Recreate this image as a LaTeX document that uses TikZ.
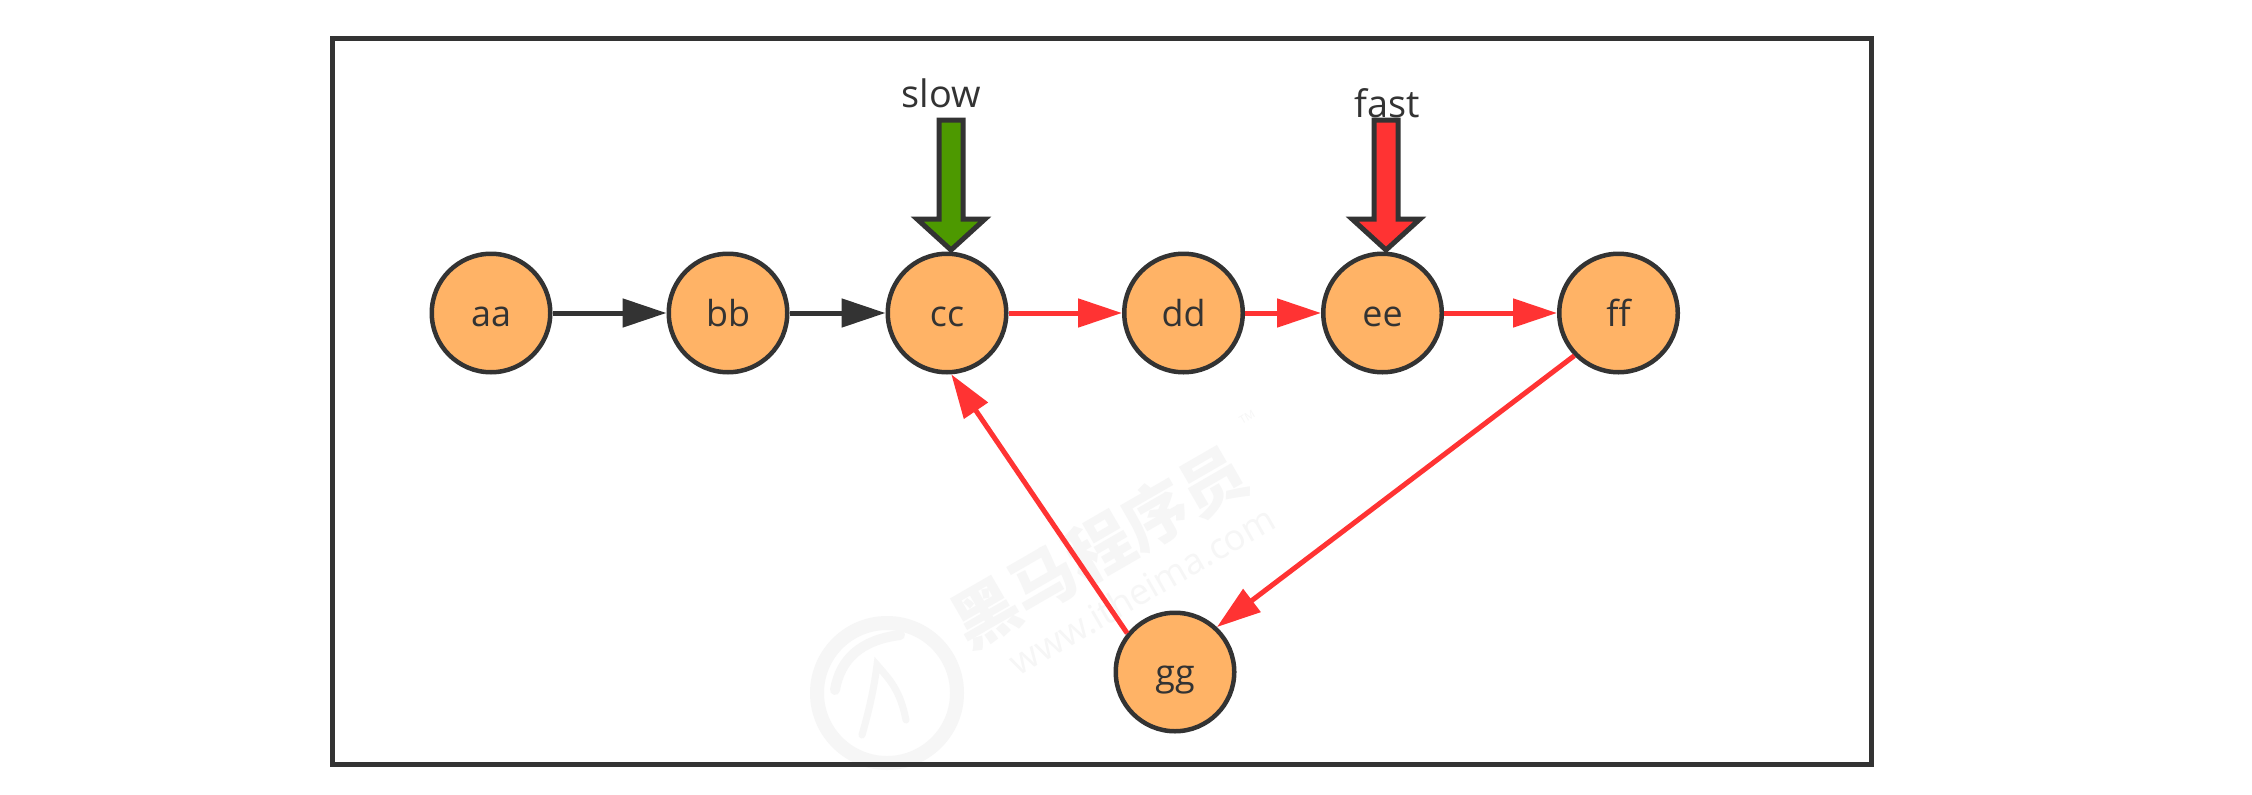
\documentclass[tikz,border=0pt]{standalone}
\usepackage{fontspec}
\setmainfont{Open Sans}
\newfontfamily\cjkwm{Noto Sans CJK SC}
\usetikzlibrary{arrows.meta}
\definecolor{ink}{HTML}{333333}
\definecolor{hotred}{HTML}{FF3333}
\definecolor{peach}{HTML}{FFB366}
\definecolor{leaf}{HTML}{4D9900}
\definecolor{wm}{HTML}{F6F6F6}
\tikzset{
  vertex/.style={circle,draw=ink,fill=peach,line width=4.5bp,minimum size=118.5bp,inner sep=0pt,text=ink,text height=26bp,text depth=0bp,font=\fontsize{36}{40}\selectfont},
  blackedge/.style={draw=ink,line width=5bp,-{Triangle[length=44bp,width=28bp]}},
  rededge/.style={draw=hotred,line width=5bp,-{Triangle[length=44bp,width=28bp]}},
  pointer/.style={draw=ink,line width=5bp,line join=miter,miter limit=10},
  tag/.style={text=ink,inner sep=0pt,font=\fontsize{38}{42}\selectfont},
  frame/.style={draw=ink,line width=5bp},
}
\newcommand{\bigpointer}[3]{%
  \draw[pointer,fill=#2] (#1-12,#3) -- (#1+12,#3) -- (#1+12,219) -- (#1+34,219) -- (#1,250) -- (#1-34,219) -- (#1-12,219) -- cycle;
}
\begin{document}
\begin{tikzpicture}[x=1bp,y=-1bp]
\useasboundingbox (0,0) rectangle (2252,794);
\fill[white] (0,0) rectangle (2252,794);
% watermark
\draw[wm,line width=14bp] (887,693) circle (70);
\draw[wm,line width=7bp,line cap=round] (862,735) .. controls (872,700) and (875,680) .. (877,665) .. controls (890,680) and (900,690) .. (906,720);
\draw[wm,line width=10bp,line cap=round] (835,690) .. controls (840,660) and (860,640) .. (900,635);
\node[rotate=30,text=wm,inner sep=0pt,font=\cjkwm\bfseries\fontsize{66}{66}\selectfont] (wmcn) at (1099,547) {黑马程序员};
\node[rotate=30,text=wm,inner sep=0pt,font=\fontsize{36}{40}\selectfont] (wmen) at (1142,590) {www.itheima.com};
\node[rotate=30,text=wm,inner sep=0pt,font=\fontsize{11}{12}\selectfont] (wmtm) at (1247,417) {TM};
% frame
\draw[frame] (332,764) -- (332,39) -- (1871,39) -- (1871,764) -- cycle;
% vertices
\node[vertex] (aa) at (491,313) {aa};
\node[vertex] (bb) at (728,313) {bb};
\node[vertex] (cc) at (947,313) {cc};
\node[vertex] (dd) at (1183.5,313) {dd};
\node[vertex] (ee) at (1382.5,313) {ee};
\node[vertex] (ff) at (1618.5,313) {ff};
\node[vertex] (gg) at (1175,672) {gg};
% edges
\draw[blackedge] (aa) -- (bb);
\draw[blackedge] (bb) -- (cc);
\draw[rededge] (cc) -- (dd);
\draw[rededge] (dd) -- (ee);
\draw[rededge] (ee) -- (ff);
\draw[rededge] (ff.224) -- (gg.47);
\draw[rededge] (gg.141) -- (cc.274);
% pointers
\bigpointer{951}{leaf}{120}
\bigpointer{1386}{hotred}{120}
\node[tag] (slow) at (941,93) {slow};
\node[tag] (fast) at (1387,103) {fast};
\end{tikzpicture}
\end{document}
